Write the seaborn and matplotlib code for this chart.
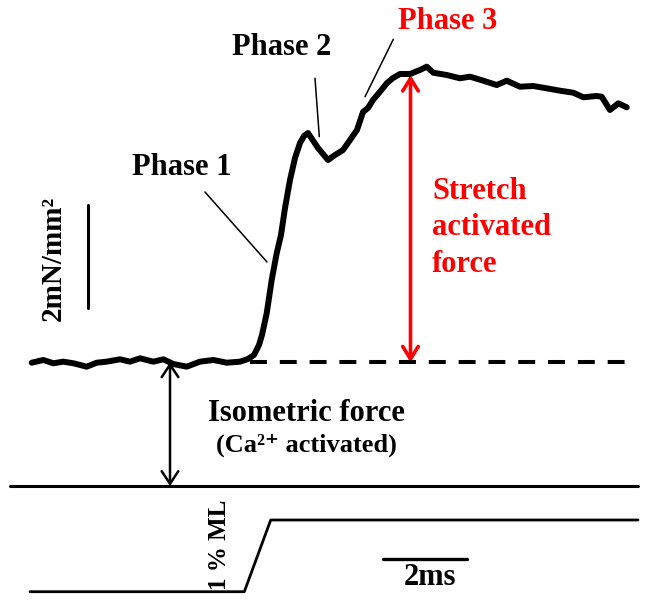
"""Stretch activation force trace with phase labels and scale bars."""
import matplotlib
matplotlib.use("Agg")
import matplotlib.pyplot as plt
from matplotlib.patches import FancyArrowPatch
import seaborn as sns

# force trace: time (ms, 0 = stretch onset) and force (mN/mm^2, 0 = relaxed)
time_ms = [-5.062, -4.786, -4.548, -4.310, -4.071, -3.752, -3.514, -3.276,
           -2.960, -2.721, -2.483, -2.167, -1.929, -1.690, -1.371, -1.055,
           -0.738, -0.419, -0.102, 0.088, 0.231, 0.350, 0.421, 0.533, 0.652,
           0.771, 0.874, 0.969, 1.088, 1.207, 1.326, 1.421, 1.517, 1.755,
           1.993, 2.160, 2.350, 2.517, 2.683, 2.826, 2.945, 3.064, 3.231,
           3.398, 3.540, 3.707, 3.945, 4.183, 4.343, 4.500, 4.819, 5.136,
           5.374, 5.690, 6.010, 6.248, 6.564, 6.881, 7.200, 7.517, 7.833,
           8.071, 8.390, 8.510, 8.707, 8.905, 9.105]
force = [2.394, 2.447, 2.383, 2.414, 2.383, 2.317, 2.394, 2.414, 2.460,
         2.414, 2.480, 2.414, 2.460, 2.369, 2.317, 2.414, 2.447, 2.394,
         2.414, 2.466, 2.544, 2.738, 2.932, 3.353, 4.000, 4.518, 4.874,
         5.398, 5.942, 6.369, 6.660, 6.796, 6.854, 6.563, 6.330, 6.427,
         6.524, 6.718, 6.913, 7.262, 7.340, 7.495, 7.656, 7.825, 7.922,
         8.000, 8.000, 8.078, 8.142, 8.025, 7.981, 7.917, 7.948, 7.870,
         7.786, 7.870, 7.753, 7.767, 7.722, 7.676, 7.637, 7.548, 7.573,
         7.559, 7.301, 7.431, 7.353]

# muscle length step (% ML)
length_time = [-5.102, 0.0, 0.629, 9.374]
length_pct = [0.0, 0.0, 1.0, 1.0]

isometric_level = 2.40
stretch_peak = 7.98
arrow_time = 3.957
iso_arrow_time = -1.769

sns.set_style("white")
plt.rcParams["font.family"] = ["Liberation Serif", "DejaVu Serif"]
plt.rcParams["font.weight"] = "bold"
plt.rcParams["text.color"] = "black"

fig = plt.figure(figsize=(6.49, 6.05), dpi=100)
ax = fig.add_axes([0, 0, 1, 1])
ax.set_xlim(-5.817, 9.636)
ax.set_ylim(-2.311, 9.437)
ax.axis("off")

ax2 = fig.add_axes([0, 0, 1, 1])
ax2.set_xlim(-5.817, 9.636)
ax2.set_ylim(-0.1855, 8.2524)
ax2.axis("off")
ax2.patch.set_visible(False)

# force trace
sns.lineplot(x=time_ms, y=force, ax=ax, color="black", linewidth=4.3,
             solid_joinstyle="round", solid_capstyle="round", sort=False)

# isometric level (dashed) and zero force line
ax.plot([0.136, 9.112], [isometric_level, isometric_level], color="black",
        linewidth=2.9, dashes=(4.2, 3.2))
ax.plot([-5.579, 9.374], [0, 0], color="black", linewidth=2.2)

# length trace
sns.lineplot(x=length_time, y=length_pct, ax=ax2, color="black",
             linewidth=2.0, sort=False)

# stretch activated force arrow
ax.add_patch(FancyArrowPatch((arrow_time, isometric_level),
                             (arrow_time, stretch_peak),
                             arrowstyle="<->,head_length=0.45,head_width=0.28",
                             mutation_scale=20, color="red", linewidth=2.6,
                             shrinkA=0, shrinkB=0))
# isometric force arrow
ax.add_patch(FancyArrowPatch((iso_arrow_time, 0), (iso_arrow_time, isometric_level),
                             arrowstyle="<->,head_length=0.45,head_width=0.3",
                             mutation_scale=20, color="black", linewidth=1.8,
                             shrinkA=0, shrinkB=0))

# phase pointers
ax.plot([-0.937, 0.540], [5.709, 4.350], color="black", linewidth=1.1)
ax.plot([1.683, 1.786], [7.917, 6.783], color="black", linewidth=1.1)
ax.plot([3.548, 2.874], [8.674, 7.559], color="black", linewidth=1.1)

# scale bars
ax.plot([-3.714, -3.714], [3.45, 5.45], color="black", linewidth=2.2)
ax.plot([3.31, 5.31], [-1.423, -1.423], color="black", linewidth=2.4)

fs = 22
ax.text(-1.478, 6.175, "Phase 1", fontsize=fs, ha="center", va="center")
ax.text(0.898, 8.505, "Phase 2", fontsize=fs, ha="center", va="center")
ax.text(4.850, 9.01, "Phase 3", fontsize=fs, ha="center", va="center",
        color="red")
ax.text(4.469, 5.01, "Stretch\nactivated\nforce", fontsize=fs, ha="left",
        va="center", color="red", linespacing=1.33)
ax.text(1.488, 1.417, "Isometric force", fontsize=fs, ha="center", va="center")
ax.text(1.481, 0.796, "(Ca²⁺ activated)", fontsize=19, ha="center",
        va="center")
ax.text(-4.555, 4.427, "2mN/mm²", fontsize=21, ha="center", va="center",
        rotation=90)
ax.text(-0.579, -1.146, "1 % ML", fontsize=18, ha="center", va="center",
        rotation=90)
ax.text(4.421, -1.786, "2ms", fontsize=fs, ha="center", va="center")

fig.savefig("out.png", dpi=100)
